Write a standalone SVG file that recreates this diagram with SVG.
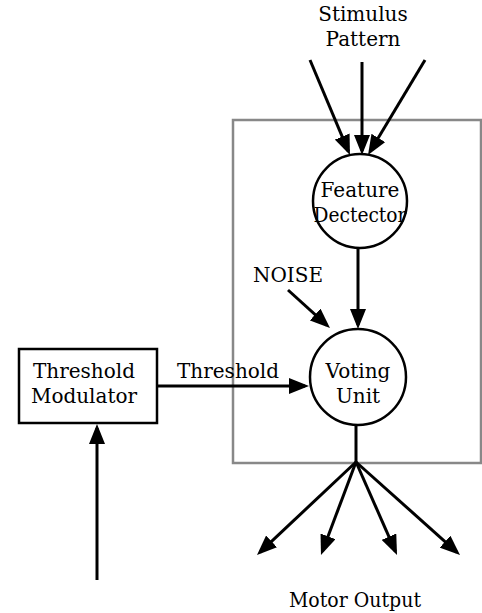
<svg xmlns="http://www.w3.org/2000/svg" width="482" height="613" viewBox="0 0 482 613">
  <style>
    .lbl { font-family: "DejaVu Serif", "Liberation Serif", serif; font-size: 20px; fill: #000; }
    .mid { text-anchor: middle; }
    .wire { stroke: #000; stroke-width: 3; fill: none; }
    .arrow { marker-end: url(#head); }
    .node { fill: #fff; stroke: #000; stroke-width: 2.5; }
    .frame { fill: none; stroke: #888; stroke-width: 2.5; }
  </style>
  <defs>
    <marker id="head" viewBox="0 0 20 16" refX="16" refY="8" markerWidth="20" markerHeight="16" markerUnits="userSpaceOnUse" orient="auto">
      <path d="M0,0 L20,8 L0,16 z" fill="#000"/>
    </marker>
  </defs>

  <rect width="482" height="613" fill="#fff"/>

  <!-- enclosing unit frame -->
  <rect id="frame" class="frame" x="233" y="120" width="248" height="343"/>

  <!-- free labels -->
  <g id="stimulus-label">
    <text class="lbl mid" x="363" y="21">Stimulus</text>
    <text class="lbl mid" x="363" y="46">Pattern</text>
  </g>
  <g id="noise-label">
    <text class="lbl mid" x="288" y="282">NOISE</text>
  </g>
  <g id="motor-label">
    <text class="lbl mid" x="355" y="607" textLength="132" lengthAdjust="spacingAndGlyphs">Motor Output</text>
  </g>

  <!-- connectors -->
  <g id="connectors">
    <line class="wire arrow" x1="310" y1="60" x2="348.4" y2="151.3"/>
    <line class="wire arrow" x1="362" y1="62" x2="362" y2="151"/>
    <line class="wire arrow" x1="425" y1="60" x2="370.1" y2="151.6"/>
    <line class="wire arrow" x1="358" y1="249" x2="358" y2="325"/>
    <line class="wire arrow" x1="288" y1="290" x2="327" y2="325.3"/>
    <line class="wire arrow" x1="157" y1="386" x2="305" y2="386"/>
    <text class="lbl" x="177" y="378">Threshold</text>
    <line class="wire arrow" x1="97" y1="580" x2="97" y2="428"/>
    <line class="wire" x1="356" y1="425" x2="356" y2="462"/>
    <line class="wire arrow" x1="356" y1="462" x2="259.9" y2="552.3"/>
    <line class="wire arrow" x1="356" y1="462" x2="322.4" y2="551.3"/>
    <line class="wire arrow" x1="356" y1="462" x2="395.4" y2="551.3"/>
    <line class="wire arrow" x1="356" y1="462" x2="457" y2="552.3"/>
  </g>

  <!-- nodes -->
  <g id="feature-detector">
    <circle class="node" cx="360" cy="201" r="47"/>
    <text class="lbl mid" x="360" y="197">Feature</text>
    <text class="lbl mid" x="360" y="222" textLength="93" lengthAdjust="spacingAndGlyphs">Dectector</text>
  </g>
  <g id="voting-unit">
    <circle class="node" cx="358" cy="377" r="48"/>
    <text class="lbl mid" x="358" y="378">Voting</text>
    <text class="lbl mid" x="358" y="403">Unit</text>
  </g>
  <g id="threshold-modulator">
    <rect class="node" x="19" y="349" width="138" height="74" stroke-width="3"/>
    <text class="lbl mid" x="84" y="378">Threshold</text>
    <text class="lbl mid" x="84" y="403">Modulator</text>
  </g>
</svg>
